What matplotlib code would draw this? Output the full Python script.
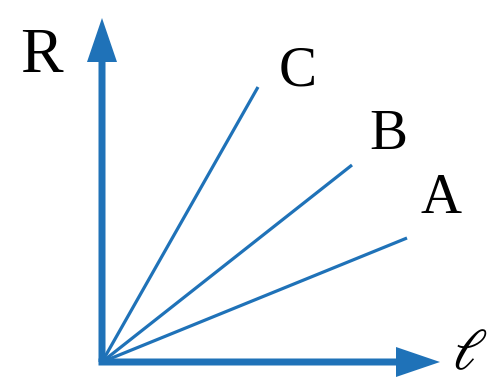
import matplotlib
matplotlib.use("Agg")
import matplotlib.pyplot as plt

plt.rcParams['mathtext.fontset'] = 'stix'

# Data (origin-relative units)
names = ["A", "B", "C"]
lengths = [305, 250, 156]
resistances = [124, 197, 275]
axis_x_len = 338
axis_y_len = 344
axis_labels = ["R", r"$\ell$"]

blue = "#1f72b8"

fig = plt.figure(figsize=(4.87, 3.89), dpi=100)
ax = fig.add_axes([0, 0, 1, 1])
ax.set_xlim(-102, 385)
ax.set_ylim(-27, 362)
ax.axis("off")

for n, l, r in zip(names, lengths, resistances):
    ax.plot([0, l], [0, r], color=blue, lw=2.3, solid_capstyle="butt")

ax.arrow(0, 0, 0, axis_y_len, width=7, head_width=30, head_length=44,
         length_includes_head=True, color=blue, lw=0)
ax.arrow(-3.5, 0, axis_x_len + 3.5, 0, width=7, head_width=30, head_length=44,
         length_includes_head=True, color=blue, lw=0)

ax.text(-61, 305, axis_labels[0], fontsize=46, family="Liberation Serif",
        ha="center", va="center")
ax.text(368, 9, axis_labels[1], fontsize=42, ha="center", va="center")

label_pos = {"C": (196, 291), "B": (286, 227), "A": (339, 163)}
for n in names:
    x, y = label_pos[n]
    ax.text(x, y, n, fontsize=41, family="Liberation Serif", ha="center", va="center")

fig.savefig("out.png", dpi=100)
